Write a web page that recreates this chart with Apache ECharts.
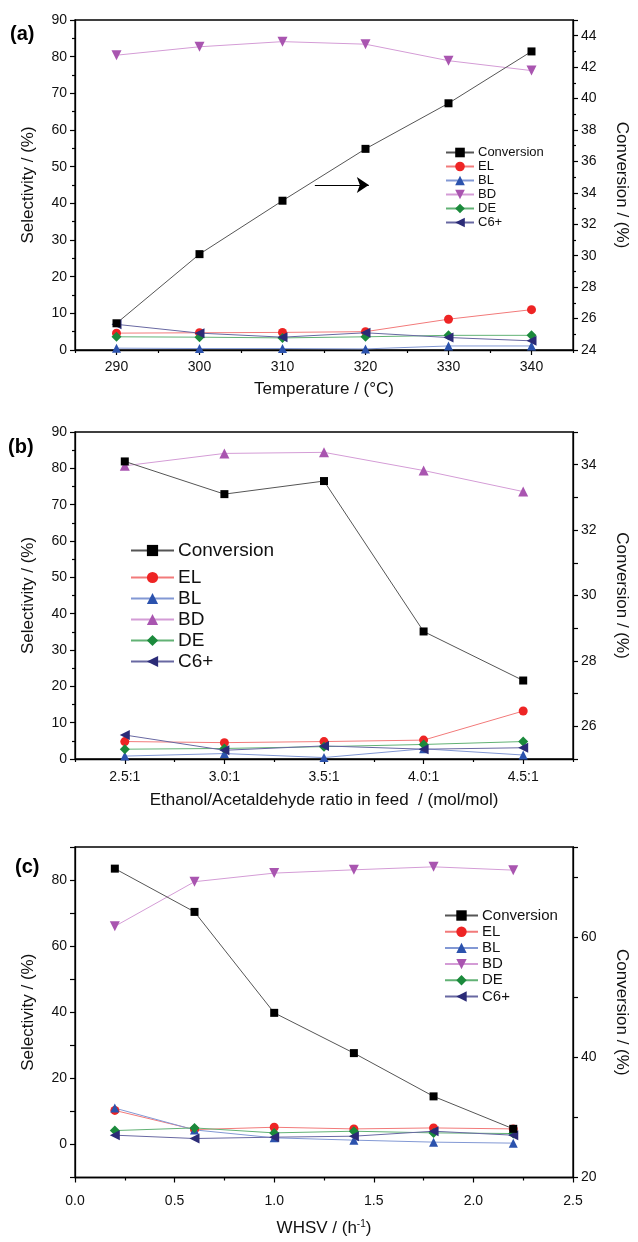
<!DOCTYPE html>
<html><head><meta charset="utf-8">
<script src="https://cdn.jsdelivr.net/npm/echarts@6/dist/echarts.min.js"></script>
<style>html,body{margin:0;padding:0;background:#fff;width:638px;height:1242px;overflow:hidden}
.p{position:absolute;left:0;width:638px}</style></head>
<body>
<div id="pa" class="p" style="top:0;height:410px"></div>
<div id="pb" class="p" style="top:410px;height:410px"></div>
<div id="pc" class="p" style="top:820px;height:422px"></div>
<script>
// ---------- data ----------
var tempX = [290, 300, 310, 320, 330, 340];
var tempTicks = [290, 300, 310, 320, 330, 340];
var tempMinor = [285, 295, 305, 315, 325, 335, 345];
var aConv = [25.7, 30.1, 33.5, 36.8, 39.7, 43.0];
var aEL = [4.6, 4.7, 4.8, 5.0, 8.4, 11.0];
var aBL = [0.5, 0.4, 0.4, 0.3, 1.1, 1.1];
var aBD = [80.4, 82.7, 84.1, 83.4, 78.9, 76.2];
var aDE = [3.6, 3.5, 3.3, 3.6, 4.0, 4.0];
var aC6 = [7.0, 4.6, 3.5, 4.7, 3.4, 2.5];
var arrowX = [313.9, 320.4];
var arrowY = 34.5;

var ratioX = [2.5, 3.0, 3.5, 4.0, 4.5];
var ratioTicks = [2.5, 3.0, 3.5, 4.0, 4.5];
var ratioMinor = [2.25, 2.75, 3.25, 3.75, 4.25, 4.75];
var bConv = [34.1, 33.1, 33.5, 28.9, 27.4];
var bEL = [4.8, 4.5, 4.8, 5.2, 13.2];
var bBL = [0.8, 1.5, 0.4, 2.8, 1.1];
var bBD = [80.7, 84.1, 84.4, 79.4, 73.6];
var bDE = [2.7, 2.9, 3.4, 4.0, 4.8];
var bC6 = [6.6, 2.4, 3.6, 2.7, 3.1];

var whsvX = [0.2, 0.6, 1.0, 1.4, 1.8, 2.2];
var cConv = [71.4, 64.2, 47.4, 40.7, 33.5, 28.1];
var cEL = [10.3, 4.5, 5.2, 4.7, 5.0, 4.7];
var cBL = [11.0, 4.4, 2.0, 1.3, 0.7, 0.4];
var cBD = [66.0, 79.5, 82.1, 83.1, 84.0, 83.0];
var cDE = [4.2, 5.0, 3.5, 4.0, 3.5, 3.3];
var cC6 = [2.8, 1.8, 2.2, 2.5, 4.0, 2.8];

// ---------- styles ----------
var FF = '"Liberation Sans", Arial, Helvetica, sans-serif';
var DOWN = 'path://M0,0L10,0L5,9Z';
var LEFT = 'path://M9,0L9,10L0,5Z';
var ST = {
  Conversion: {sym: 'rect', size: 8, m: '#000000', l: '#555555'},
  EL: {sym: 'circle', size: 9, m: '#ee2424', l: '#f27a7a'},
  BL: {sym: 'triangle', size: 9, m: '#2b52ad', l: '#8298d4'},
  BD: {sym: DOWN, size: 10, m: '#a955b0', l: '#d49cd6'},
  BDup: {sym: 'triangle', size: 10, m: '#a955b0', l: '#d49cd6'},
  DE: {sym: 'diamond', size: 10, m: '#1b8a3c', l: '#62b275'},
  C6: {sym: LEFT, size: 10, m: '#2b2b77', l: '#6868a2'}
};

function ser(name, key, xs, ys, yIdx) {
  var s = ST[key];
  return {
    type: 'line', name: name, yAxisIndex: yIdx, xAxisIndex: 0,
    data: xs.map(function (x, i) { return [x, ys[i]]; }),
    symbol: s.sym, symbolSize: s.size, showSymbol: true,
    itemStyle: {color: s.m},
    lineStyle: {color: s.l, width: 1},
    emphasis: {disabled: true}, silent: true
  };
}

var axLine = {show: true, onZero: false, lineStyle: {color: '#000', width: 1.3}};
var axLab = {color: '#111', fontSize: 14, fontFamily: FF};
var nameSt = {color: '#111', fontSize: 17, fontFamily: FF};

function yLeft(min, max, interval, fmt, minor) {
  return {
    type: 'value', position: 'left', min: min, max: max, interval: interval,
    axisLine: axLine, splitLine: {show: false},
    axisTick: {show: true, length: 5, lineStyle: {color: '#000', width: 1.2}},
    minorTick: {show: !!minor, splitNumber: 2, length: 3, lineStyle: {color: '#000', width: 1.2}},
    axisLabel: Object.assign({margin: 8, formatter: fmt}, axLab),
    name: 'Selectivity / (%)', nameLocation: 'middle', nameRotate: 90, nameGap: 38,
    nameTextStyle: nameSt
  };
}
function yRight(min, max, interval, fmt, minor) {
  return {
    type: 'value', position: 'right', min: min, max: max, interval: interval,
    axisLine: axLine, splitLine: {show: false},
    axisTick: {show: true, length: 5, lineStyle: {color: '#000', width: 1.2}},
    minorTick: {show: !!minor, splitNumber: 2, length: 3, lineStyle: {color: '#000', width: 1.2}},
    axisLabel: Object.assign({margin: 8, formatter: fmt}, axLab),
    name: 'Conversion / (%)', nameLocation: 'middle', nameRotate: -90, nameGap: 40,
    nameTextStyle: nameSt
  };
}
function xCustom(min, max, major, minor, fmt, name, gap, margin) {
  return [{
    type: 'value', position: 'bottom', min: min, max: max,
    axisLine: axLine, splitLine: {show: false},
    axisTick: {show: true, length: 5, customValues: major, lineStyle: {color: '#000', width: 1.2}},
    axisLabel: Object.assign({margin: margin, customValues: major, formatter: fmt}, axLab),
    name: name, nameLocation: 'middle', nameGap: gap, nameTextStyle: nameSt
  }, {
    type: 'value', position: 'bottom', min: min, max: max, offset: 0,
    axisLine: {show: false, onZero: false}, splitLine: {show: false},
    axisTick: {show: true, length: 3, customValues: minor, lineStyle: {color: '#000', width: 1.2}},
    axisLabel: {show: false}
  }];
}
function legend(names, left, top, font, iw, ih, gap) {
  return {
    data: names, orient: 'vertical', left: left, top: top,
    itemWidth: iw, itemHeight: ih, itemGap: gap, selectedMode: false,
    textStyle: {color: '#111', fontSize: font, fontFamily: FF, padding: [0, 0, 0, -1]},
    padding: 0
  };
}
function title(t, left, top) {
  return {text: t, left: left, top: top, padding: 0,
    textStyle: {fontSize: 20, fontWeight: 'bold', fontFamily: FF, color: '#000'}};
}
var grid = function (top, h) {
  return {left: 75, right: 63, top: top, height: h, show: true, borderColor: '#000', borderWidth: 1.3, backgroundColor: 'transparent'};
};
var even = function (v) { return (Math.round(v) % 2 === 0) ? String(v) : ''; };
var all6 = ['Conversion', 'EL', 'BL', 'BD', 'DE', 'C6+'];

// ---------- panel (a) ----------
var ca = echarts.init(document.getElementById('pa'), null, {renderer: 'canvas'});
var convA = ser('Conversion', 'Conversion', tempX, aConv, 1);
convA.markLine = {
  silent: true, symbol: ['none', 'arrow'], symbolSize: 12, label: {show: false},
  lineStyle: {color: '#000', width: 1.2, type: 'solid'},
  data: [[{coord: [arrowX[0], arrowY]}, {coord: [arrowX[1], arrowY]}]]
};
ca.setOption({
  animation: false,
  title: [title('(a)', 10, 24)],
  grid: grid(20, 330),
  legend: legend(all6, 445, 146, 13, 28, 12, 1),
  xAxis: xCustom(285, 345, tempTicks, tempMinor, function (v) { return String(v); }, 'Temperature / (\u00B0C)', 31, 10),
  yAxis: [yLeft(0, 90, 10, null, true), yRight(24, 45, 2, even, true)],
  series: [
    ser('EL', 'EL', tempX, aEL, 0),
    ser('BL', 'BL', tempX, aBL, 0),
    ser('BD', 'BD', tempX, aBD, 0),
    ser('DE', 'DE', tempX, aDE, 0),
    ser('C6+', 'C6', tempX, aC6, 0),
    convA
  ]
});

// ---------- panel (b) ----------
var cb = echarts.init(document.getElementById('pb'), null, {renderer: 'canvas'});
cb.setOption({
  animation: false,
  title: [title('(b)', 8, 27)],
  grid: grid(22, 327),
  legend: [legend(['Conversion'], 130, 131, 19, 43, 14, 2),
           legend(['EL', 'BL', 'BD', 'DE', 'C6+'], 130, 158, 19, 43, 14, 2)],
  xAxis: xCustom(2.25, 4.75, ratioTicks, ratioMinor, function (v) { return v.toFixed(1) + ':1'; },
                 'Ethanol/Acetaldehyde ratio in feed  / (mol/mol)', 33, 11),
  yAxis: [yLeft(0, 90, 10, null, true), yRight(25, 35, 1, even, false)],
  series: [
    ser('EL', 'EL', ratioX, bEL, 0),
    ser('BL', 'BL', ratioX, bBL, 0),
    ser('BD', 'BDup', ratioX, bBD, 0),
    ser('DE', 'DE', ratioX, bDE, 0),
    ser('C6+', 'C6', ratioX, bC6, 0),
    ser('Conversion', 'Conversion', ratioX, bConv, 1)
  ]
});

// ---------- panel (c) ----------
var cc = echarts.init(document.getElementById('pc'), null, {renderer: 'canvas'});
cc.setOption({
  animation: false,
  title: [title('(c)', 15, 37)],
  grid: grid(27, 335),
  legend: legend(all6, 444, 88, 15, 33, 13, 1.2),
  xAxis: [{
    type: 'value', position: 'bottom', min: 0, max: 2.5, interval: 0.5,
    axisLine: axLine, splitLine: {show: false},
    axisTick: {show: true, length: 5, lineStyle: {color: '#000', width: 1.2}},
    minorTick: {show: true, splitNumber: 2, length: 3, lineStyle: {color: '#000', width: 1.2}},
    axisLabel: Object.assign({margin: 17, formatter: function (v) { return v.toFixed(1); }}, axLab),
    name: 'WHSV / (h{sup|-1})', nameLocation: 'middle', nameGap: 42,
    nameTextStyle: Object.assign({rich: {sup: {fontSize: 10, verticalAlign: 'top', padding: [0, 0, 8, 0], fontFamily: FF, color: '#111'}}}, nameSt)
  }],
  yAxis: [yLeft(-10, 90, 10, function (v) { return (v >= 0 && v % 20 === 0) ? String(v) : ''; }, false),
          yRight(20, 75, 10, function (v) { return (v % 20 === 0) ? String(v) : ''; }, false)],
  series: [
    ser('EL', 'EL', whsvX, cEL, 0),
    ser('BL', 'BL', whsvX, cBL, 0),
    ser('BD', 'BD', whsvX, cBD, 0),
    ser('DE', 'DE', whsvX, cDE, 0),
    ser('C6+', 'C6', whsvX, cC6, 0),
    ser('Conversion', 'Conversion', whsvX, cConv, 1)
  ]
});
</script>
</body></html>
